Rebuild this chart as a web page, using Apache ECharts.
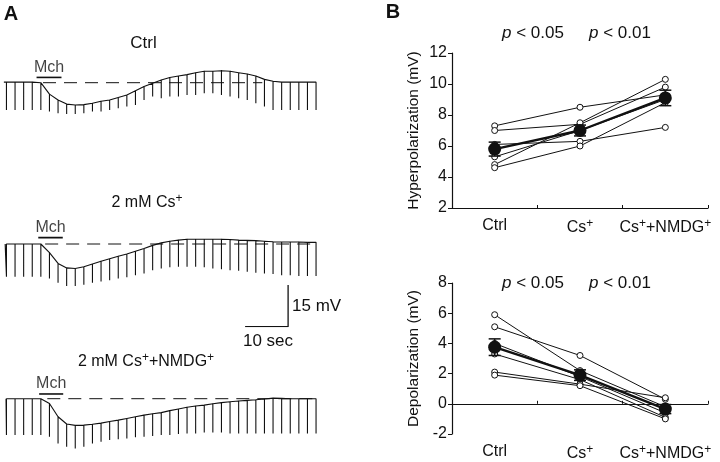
<!DOCTYPE html>
<html><head><meta charset="utf-8">
<script src="https://cdn.jsdelivr.net/npm/echarts@6/dist/echarts.min.js"></script>
<style>html,body{margin:0;padding:0;background:#fff}#c{width:720px;height:462px}</style>
</head><body><div id="c"></div>
<script>
// ---------- Panel A data (time in s, membrane potential in mV relative to rest) ----------
const pulseTimes = [1.5,3.5,5.5,7.5,9.5,11.5,13.5,15.5,17.5,19.5,21.5,23.5,25.5,27.5,29.5,31.5,33.5,35.5,37.5,39.5,41.5,43.5,45.5,47.5,49.5,51.5,53.5,55.5,57.5,59.5,61.5,63.5,65.5,67.5,69.5,71.5,73.5];
const traceStart = [0.9, 1.2, 1.4];
const ctrlBase = [0.2,0.2,0.2,0.2,0,-4.1,-6.2,-7.7,-8.0,-7.9,-7.4,-6.7,-6.2,-5.3,-4.4,-2.9,-1.4,-0.2,1.0,1.9,2.4,2.9,3.6,4.1,4.1,4.3,4.1,3.6,3.1,2.4,1.2,0.5,0.2,0.2,0.2,0.2,0.2];
const ctrlBottom = [-9.8,-9.8,-9.8,-9.8,-9.8,-10.4,-11.0,-11.3,-11.3,-11.0,-10.4,-10.4,-9.8,-9.2,-8.6,-8.0,-6.2,-5.0,-5.6,-5.0,-5.0,-4.4,-4.4,-3.8,-3.8,-4.4,-5.0,-5.6,-6.2,-7.4,-8.6,-9.8,-9.8,-9.8,-9.8,-9.8,-9.8];
const csBase = [0,0,0,0,0,-3.1,-7.0,-8.6,-8.8,-8.2,-7.2,-6.2,-5.3,-4.4,-3.6,-2.6,-1.6,-0.5,0.4,1.0,1.4,1.7,1.7,1.7,1.7,1.7,1.6,1.4,1.3,1.2,1.0,0.8,0.7,0.7,0.7,0.6,0.6];
const csBottom = [-11.8,-11.8,-11.8,-11.8,-11.8,-12.4,-13.9,-15.1,-15.1,-14.7,-13.9,-13.5,-13.0,-12.4,-12.0,-11.2,-10.6,-9.4,-8.8,-8.4,-8.2,-8.2,-8.2,-8.4,-8.8,-9.1,-9.4,-9.6,-10.0,-10.3,-10.6,-10.8,-11.2,-11.2,-11.5,-11.5,-11.5];
const nmdgBase = [0,0,0,0,0,-1.7,-6.5,-9.1,-9.6,-9.5,-9.2,-8.8,-8.2,-7.7,-7.1,-6.5,-5.9,-5.4,-5.0,-4.3,-3.7,-3.1,-2.6,-2.3,-1.8,-1.4,-1.1,-0.8,-0.6,-0.4,-0.1,0.2,0.1,0,0,0,0];
const nmdgBottom = [-13.1,-13.1,-13.1,-13.1,-13.1,-13.7,-16.1,-17.3,-17.9,-17.3,-16.1,-15.5,-14.9,-14.6,-14.3,-13.9,-13.7,-13.4,-13.1,-13.1,-12.7,-12.5,-12.5,-12.2,-12.2,-12.2,-12.5,-12.5,-12.5,-12.5,-12.5,-12.5,-12.5,-12.5,-12.5,-12.5,-12.5];
const mchTimes = [[8.5,14.3],[8.9,14.6],[9.1,14.7]];
const mchLevel = [1.9, 2.3, 1.7];
const dashRanges = [[10,61],[10.5,73.5],[11,73.5]];
const traceTitles = ['Ctrl', '2 mM Cs⁺', '2 mM Cs⁺+NMDG⁺'];
const scaleBarTime = [57, 67];   // 10 sec
const scaleBarVolt = [0, 15];    // 15 mV

// ---------- Panel B data ----------
const categories = ['Ctrl', 'Cs⁺', 'Cs⁺+NMDG⁺'];
const hyperTicks = [2, 12, 2];
const depolTicks = [-2, 8, 2];
const hyperCells = [[7.3,8.5,9.3],[7.0,7.4,9.8],[6.1,6.3,7.2],[5.3,7.0,9.0],[4.8,7.5,10.3],[4.6,6.0,8.8]];
const hyperMean = [5.8, 7.0, 9.1];
const hyperSem = [0.45, 0.35, 0.5];
const depolCells = [[5.9,2.2,-0.2],[5.1,3.2,0.3],[4.0,1.8,-0.6],[3.3,1.6,-0.9],[2.1,1.3,0.4],[1.9,1.2,-1.0]];
const depolMean = [3.75, 1.9, -0.35];
const depolSem = [0.55, 0.35, 0.3];
const pTexts = ['p < 0.05', 'p < 0.01'];

// ---------- layout ----------
const FONT = "'Liberation Sans', Arial, Helvetica, sans-serif";
const PX_S = 4.3, PX_MV = 2.78, T_MAX = 75, V_MIN = -20, V_MAX = 10;
const traceBaseY = [82.7, 244, 398.7];
const supRich = {
  a: {fontFamily: FONT, fontSize: 16, color: '#111'},
  s: {fontFamily: FONT, fontSize: 12, color: '#111', padding: [0, 0, 8, 0]}
};
function toRich(str) {
  return str.split('⁺').map((p, i, arr) => (p ? '{a|' + p + '}' : '') + (i < arr.length - 1 ? '{s|+}' : '')).join('');
}

const chart = echarts.init(document.getElementById('c'));
const grids = [], xAxes = [], yAxes = [], series = [];

const traceData = [[ctrlBase, ctrlBottom], [csBase, csBottom], [nmdgBase, nmdgBottom]];
traceData.forEach((td, k) => {
  grids.push({left: 0, top: traceBaseY[k] - V_MAX * PX_MV, width: T_MAX * PX_S, height: (V_MAX - V_MIN) * PX_MV});
  xAxes.push({type: 'value', gridIndex: k, min: 0, max: T_MAX, show: false});
  yAxes.push({type: 'value', gridIndex: k, min: V_MIN, max: V_MAX, show: false});
  const base = td[0], bottom = td[1];
  const d = [[traceStart[k], base[0]]];
  pulseTimes.forEach((t, i) => { d.push([t, base[i]], [t, bottom[i]], [t, base[i]]); });
  series.push({type: 'line', xAxisIndex: k, yAxisIndex: k, data: d, showSymbol: false, silent: true,
    lineStyle: {color: '#111', width: 1.1}, z: 4});
  series.push({type: 'line', xAxisIndex: k, yAxisIndex: k, showSymbol: false, silent: true,
    data: [[dashRanges[k][0], 0], [dashRanges[k][1], 0]],
    lineStyle: {color: '#111', width: 1, type: [13, 8]}, z: 3});
  series.push({type: 'line', xAxisIndex: k, yAxisIndex: k, showSymbol: false, silent: true,
    data: [[mchTimes[k][0], mchLevel[k]], [mchTimes[k][1], mchLevel[k]]],
    lineStyle: {color: '#111', width: 1.6}, z: 4});
  series.push({type: 'scatter', xAxisIndex: k, yAxisIndex: k, symbolSize: 0, silent: true,
    data: [[(mchTimes[k][0] + mchTimes[k][1]) / 2, mchLevel[k]]],
    label: {show: true, position: 'top', distance: 2, formatter: 'Mch', fontFamily: FONT, fontSize: 16, color: '#111'}});
});

// scale bar grid (index 3)
grids.push({left: 0, top: 285, width: T_MAX * PX_S, height: 15 * PX_MV});
xAxes.push({type: 'value', gridIndex: 3, min: 0, max: T_MAX, show: false});
yAxes.push({type: 'value', gridIndex: 3, min: 0, max: 15, show: false});
series.push({type: 'line', xAxisIndex: 3, yAxisIndex: 3, showSymbol: false, silent: true,
  data: [[scaleBarTime[0], scaleBarVolt[0]], [scaleBarTime[1], scaleBarVolt[0]], [scaleBarTime[1], scaleBarVolt[1]]],
  lineStyle: {color: '#111', width: 1.3}});

// Panel B grids (index 4, 5)
const bPanels = [
  {top: 53, ticks: hyperTicks, name: 'Hyperpolarization (mV)', cells: hyperCells, mean: hyperMean, sem: hyperSem},
  {top: 283, ticks: depolTicks, name: 'Depolarization (mV)', cells: depolCells, mean: depolMean, sem: depolSem}
];
bPanels.forEach((bp, j) => {
  const g = 4 + j;
  grids.push({left: 452, top: bp.top, width: 256, height: 155});
  xAxes.push({type: 'category', gridIndex: g, data: categories, boundaryGap: true,
    axisLine: {show: true, lineStyle: {color: '#111', width: 1.2}},
    axisTick: {show: true, inside: true, length: 3, interval: 0, lineStyle: {color: '#111'}},
    axisLabel: {margin: 10, interval: 0, hideOverlap: false, formatter: v => toRich(v), rich: {
      a: {fontFamily: FONT, fontSize: 16, color: '#111'},
      s: {fontFamily: FONT, fontSize: 12, color: '#111', padding: [0, 0, 8, 0]}}},
    splitLine: {show: false}});
  yAxes.push({type: 'value', gridIndex: g, min: bp.ticks[0], max: bp.ticks[1], interval: bp.ticks[2],
    axisLine: {show: true, lineStyle: {color: '#111', width: 1.2}},
    axisTick: {show: true, length: 4, lineStyle: {color: '#111'}},
    axisLabel: {fontFamily: FONT, fontSize: 16, color: '#111', margin: 5},
    splitLine: {show: false},
    name: bp.name, nameLocation: 'middle', nameGap: 30,
    nameTextStyle: {fontFamily: FONT, fontSize: 15.5, color: '#111'}});
  bp.cells.forEach(c => {
    series.push({type: 'line', xAxisIndex: g, yAxisIndex: g, data: c, symbol: 'circle', symbolSize: 6,
      itemStyle: {color: '#fff', borderColor: '#111', borderWidth: 1},
      lineStyle: {color: '#111', width: 1}, z: 3, silent: true});
  });
  series.push({type: 'custom', xAxisIndex: g, yAxisIndex: g, z: 6, silent: true,
    data: bp.mean.map((m, i) => [i, m + bp.sem[i], m - bp.sem[i]]),
    renderItem: (p, api) => {
      const a = api.coord([api.value(0), api.value(1)]);
      const b = api.coord([api.value(0), api.value(2)]);
      const w = 6, st = {stroke: '#111', lineWidth: 1.5};
      return {type: 'group', children: [
        {type: 'line', shape: {x1: a[0], y1: a[1], x2: b[0], y2: b[1]}, style: st},
        {type: 'line', shape: {x1: a[0] - w, y1: a[1], x2: a[0] + w, y2: a[1]}, style: st},
        {type: 'line', shape: {x1: b[0] - w, y1: b[1], x2: b[0] + w, y2: b[1]}, style: st}]};
    }});
  series.push({type: 'line', xAxisIndex: g, yAxisIndex: g, data: bp.mean, symbol: 'circle', symbolSize: 13,
    itemStyle: {color: '#111'}, lineStyle: {color: '#111', width: 2.4}, z: 7, silent: true});
});

function txt(x, y, text, opts) {
  return Object.assign({type: 'text', x: x, y: y, silent: true,
    style: Object.assign({text: text, fontFamily: FONT, fontSize: 16, fill: '#111', align: 'center', verticalAlign: 'middle'}, opts || {})});
}
const graphic = [
  txt(11, 14, 'A', {fontSize: 20, fontWeight: 'bold'}),
  txt(393, 12, 'B', {fontSize: 20, fontWeight: 'bold'}),
  txt(143.5, 43, 'Ctrl', {fontSize: 17}),
  txt(147, 203, toRich(traceTitles[1]), {rich: supRich}),
  txt(146, 362, toRich(traceTitles[2]), {rich: supRich}),
  txt(292, 306, '15 mV', {align: 'left', fontSize: 17}),
  txt(268, 341, '10 sec', {fontSize: 17})
];
const pRich = {i: {fontFamily: FONT, fontSize: 17, fontStyle: 'italic', color: '#111'}, a: {fontFamily: FONT, fontSize: 17, color: '#111'}};
[33, 283].forEach(y => {
  graphic.push(txt(502, y, '{i|p}{a|' + pTexts[0].slice(1) + '}', {align: 'left', rich: pRich}));
  graphic.push(txt(589, y, '{i|p}{a|' + pTexts[1].slice(1) + '}', {align: 'left', rich: pRich}));
});

chart.setOption({
  animation: false,
  backgroundColor: '#fff',
  grid: grids, xAxis: xAxes, yAxis: yAxes, series: series, graphic: graphic
});
</script></body></html>
